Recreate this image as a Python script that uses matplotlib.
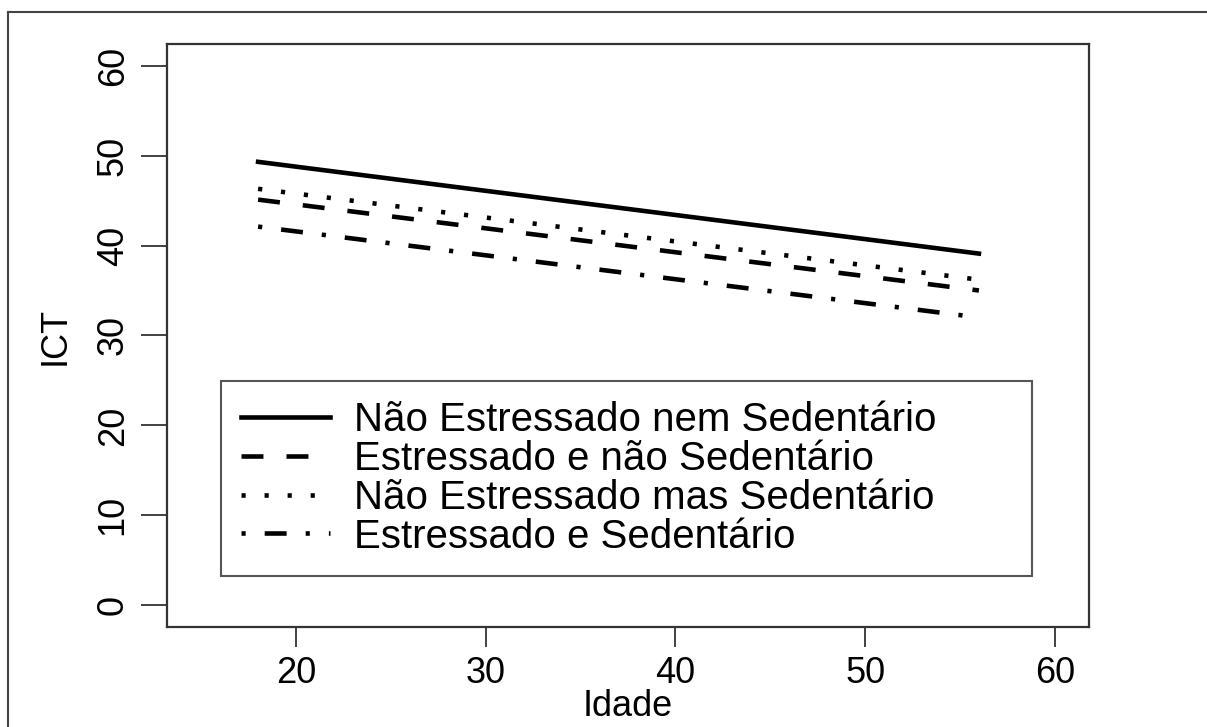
import matplotlib
matplotlib.use('Agg')
import matplotlib.pyplot as plt
from matplotlib.lines import Line2D

plt.rcParams['font.family'] = ['Liberation Sans', 'DejaVu Sans']
plt.rcParams['lines.scale_dashes'] = False

# fitted ICT by age for each group (straight lines between first and last age)
idade = [18, 56]
ict_nenhum = [49.3, 39.1]
ict_estressado = [45.1, 35.0]
ict_sedentario = [46.3, 36.2]
ict_ambos = [42.1, 32.0]

grupos = ['Não Estressado nem Sedentário',
          'Estressado e não Sedentário',
          'Não Estressado mas Sedentário',
          'Estressado e Sedentário']

x_ticks = [20, 30, 40, 50, 60]
y_ticks = [0, 10, 20, 30, 40, 50, 60]

# R-like line types, dash lengths in points
LINE_STYLES = [
    '-',
    (0, (15.8, 16.6)),
    (0, (3.0, 13.6)),
    (0, (3.0, 13.7, 15.8, 13.7)),
]


def main():
    fig = plt.figure(figsize=(12.07, 7.27), dpi=100)
    ax = fig.add_axes([0.1384, 0.1376, 0.7638, 0.8019])

    series = [ict_nenhum, ict_estressado, ict_sedentario, ict_ambos]
    for values, label, ls in zip(series, grupos, LINE_STYLES):
        ax.plot(idade, values, color='black', linewidth=3.3, linestyle=ls,
                label=label)

    # 4% padding like R's default axis range
    ax.set_xlim(15 - 0.04 * 45, 60 + 0.04 * 45)
    ax.set_ylim(0 - 0.04 * 60, 60 + 0.04 * 60)
    ax.set_xticks(x_ticks)
    ax.set_yticks(y_ticks)

    for spine in ax.spines.values():
        spine.set_linewidth(1.6)
        spine.set_color('#333333')

    ax.tick_params(axis='x', length=14.4, width=1.3, pad=6.5,
                   labelsize=26, color='#333333')
    ax.tick_params(axis='y', length=18.7, width=1.3, pad=7.5,
                   labelsize=26, color='#333333', labelrotation=90)
    for lab in ax.get_yticklabels():
        lab.set_verticalalignment('center')

    ax.set_xlabel('Idade', fontsize=26, va='center')
    ax.xaxis.set_label_coords(0.5, -0.137)
    ax.set_ylabel('ICT', fontsize=26, va='center')
    ax.yaxis.set_label_coords(-0.1215, 0.5)

    leg = ax.legend(loc='upper left', bbox_to_anchor=(0.0586, 0.0, 0.8796, 0.422),
                    mode='expand', borderaxespad=0, fontsize=29,
                    handlelength=2.2, handletextpad=0.6, borderpad=0.5,
                    labelspacing=0.02, fancybox=False, framealpha=1)
    leg.get_frame().set_edgecolor('#555555')
    leg.get_frame().set_linewidth(1.5)

    # page border (top and left edges)
    fig.add_artist(Line2D([8 / 1207, 1.0], [1 - 11.5 / 727, 1 - 11.5 / 727],
                          transform=fig.transFigure, color='#444444', linewidth=1.5))
    fig.add_artist(Line2D([8 / 1207, 8 / 1207], [0.0, 1 - 11.5 / 727],
                          transform=fig.transFigure, color='#444444', linewidth=1.5))

    fig.savefig('out.png', dpi=100)


if __name__ == "__main__":
    main()
